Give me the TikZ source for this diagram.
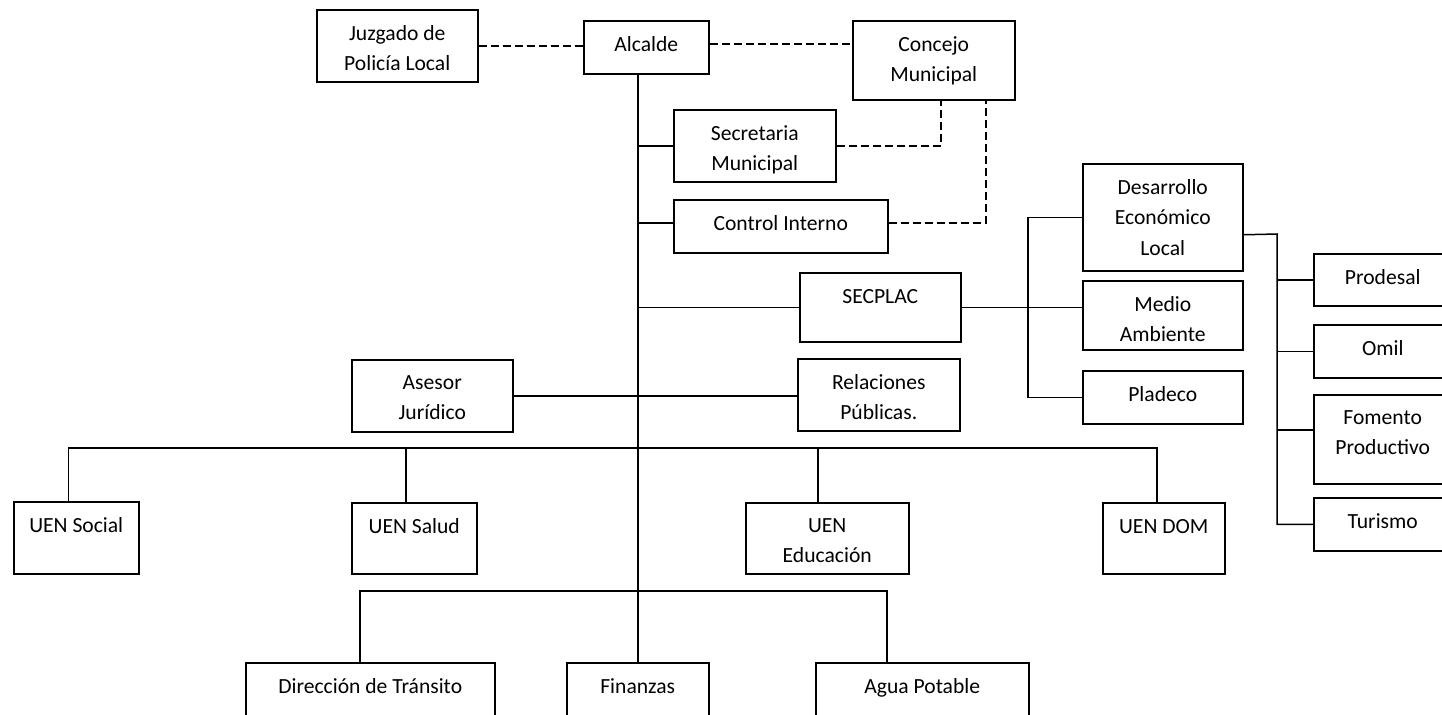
\documentclass[tikz,border=0pt]{standalone}
\usepackage{fontspec}
\setmainfont{Carlito}
\tikzset{
  unit/.style={draw, line width=0.75pt, inner sep=0pt, anchor=north west},
  txt/.style={anchor=north, yshift=-5pt, inner sep=0pt, align=center, execute at begin node=\strut},
  txt2/.style={txt, yshift=-3pt},
  link/.style={line width=0.75pt},
  dlink/.style={line width=0.75pt, dash pattern=on 4pt off 2pt},
}

\begin{document}
\begin{tikzpicture}[x=0.5pt, y=-0.5pt, font=\fontsize{10.8}{15.2}\selectfont]
  \fill[white] (0,0) rectangle (1442,714);
  \clip (0,0) rectangle (1442,714);

  % Top row
  \node[unit, minimum width=80.5pt, minimum height=36pt, label={[txt2]north:{Juzgado de\\Policía Local}}] (juz) at (316,9) {};
  \node[unit, minimum width=62.5pt, minimum height=26.5pt, label={[txt]north:Alcalde}] (alc) at (583,20) {};
  \node[unit, minimum width=81pt, minimum height=39.5pt, label={[txt2]north:{Concejo\\Municipal}}] (con) at (852,20) {};

  % Staff units
  \node[unit, minimum width=81pt, minimum height=36pt, label={[txt2]north:{Secretaria\\Municipal}}] (sec) at (673,109) {};
  \node[unit, minimum width=107pt, minimum height=26.5pt, label={[txt]north:Control Interno}] (ctl) at (673,199) {};
  \node[unit, minimum width=80.5pt, minimum height=34.5pt, label={[txt]north:SECPLAC}] (spl) at (799,272) {};
  \node[unit, minimum width=80.5pt, minimum height=36pt, label={[txt2]north:{Asesor\\Jurídico}}] (ase) at (351,359) {};
  \node[unit, minimum width=81pt, minimum height=36pt, label={[txt2]north:{Relaciones\\Públicas.}}] (rel) at (797,358) {};

  % SECPLAC branch
  \node[unit, minimum width=80pt, minimum height=53.5pt, label={[txt2]north:{Desarrollo\\Económico\\Local}}] (des) at (1082,163) {};
  \node[unit, minimum width=80pt, minimum height=34.5pt, label={[txt2]north:{Medio\\Ambiente}}] (med) at (1082,280) {};
  \node[unit, minimum width=80pt, minimum height=26.5pt, label={[txt]north:Pladeco}] (pla) at (1082,370) {};

  % Desarrollo Economico branch
  \node[unit, minimum width=69pt, minimum height=26pt, label={[txt]north:Prodesal}] (pro) at (1313,253) {};
  \node[unit, minimum width=69pt, minimum height=26.5pt, label={[txt]north:Omil}] (omi) at (1313,324) {};
  \node[unit, minimum width=69pt, minimum height=44.5pt, label={[txt2]north:{Fomento\\Productivo}}] (fom) at (1313,394) {};
  \node[unit, minimum width=69pt, minimum height=26.5pt, label={[txt]north:Turismo}] (tur) at (1313,497) {};

  % UEN row
  \node[unit, minimum width=62.5pt, minimum height=36pt, label={[txt]north:UEN Social}] (soc) at (13,501) {};
  \node[unit, minimum width=62.5pt, minimum height=35.5pt, label={[txt]north:UEN Salud}] (sal) at (351,502) {};
  \node[unit, minimum width=81.5pt, minimum height=35.5pt, label={[txt2]north:{UEN\\Educación}}] (edu) at (745,502) {};
  \node[unit, minimum width=61pt, minimum height=35.5pt, label={[txt]north:UEN DOM}] (dom) at (1102,502) {};

  % Bottom row
  \node[unit, minimum width=124.5pt, minimum height=35pt, label={[txt]north:Dirección de Tránsito}] (dir) at (245,662) {};
  \node[unit, minimum width=71pt, minimum height=35pt, label={[txt]north:Finanzas}] (fin) at (566,662) {};
  \node[unit, minimum width=106.5pt, minimum height=35pt, label={[txt]north:Agua Potable}] (agu) at (815,662) {};

  \coordinate (brk) at (1028,306);
  \coordinate (rbr) at (1277,234);
  \coordinate (uen) at (637,448);
  \coordinate (bot) at (637,591);

  % Dashed links
  \draw[dlink] (juz.east) -- (juz.east -| alc.west);
  \draw[dlink] ([yshift=1.75pt]alc.east) -- ([yshift=1.75pt]alc.east -| con.west);
  \draw[dlink] (sec.east) -| ([xshift=3.5pt]con.south);
  \draw[dlink] ([yshift=1.75pt]ctl.east) -| ([xshift=26pt]con.south);

  % Trunk and staff
  \draw[link] (alc.south -| fin.north) -- (fin.north);
  \draw[link] (sec.west) -- (sec.west -| fin.north);
  \draw[link] ([yshift=1.75pt]ctl.west) -- ([yshift=1.75pt]ctl.west -| fin.north);
  \draw[link] (spl.west) -- (spl.west -| fin.north);
  \draw[link] (ase.east) -- (ase.east -| rel.west);

  % SECPLAC and Desarrollo brackets
  \draw[link] (spl.east) -- (spl.east -| med.west);
  \draw[link] (des.west) -| (brk) |- (pla.west);
  \draw[link] ([yshift=-8.75pt]des.east) -- (rbr) |- (tur.west);
  \draw[link] (pro.west) -- (pro.west -| rbr);
  \draw[link] (omi.west) -- (omi.west -| rbr);
  \draw[link] ([yshift=4.75pt]fom.west) -- ([yshift=4.75pt]fom.west -| rbr);

  % UEN and bottom rows
  \draw[link] ([xshift=-4pt]soc.north) |- (uen) -| ([xshift=-3.5pt]dom.north);
  \foreach \u/\dx in {sal/-4.25pt, edu/-4.75pt}
    \draw[link] ([xshift=\dx]\u.north) -- ([xshift=\dx]\u.north |- uen);
  \draw[link] ([xshift=-5.25pt]dir.north) |- (bot) -| ([xshift=-17.75pt]agu.north);
\end{tikzpicture}
\end{document}
